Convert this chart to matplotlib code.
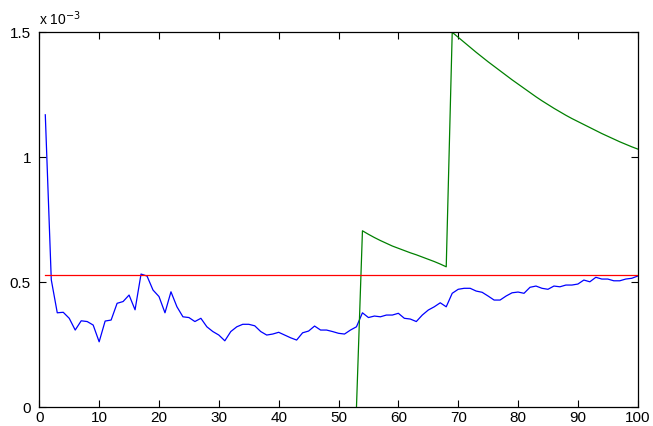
import numpy as np
import matplotlib
matplotlib.use('Agg')
import matplotlib.pyplot as plt

# values are in units of 1e-3 (the axis shows "x 10^-3")
blue_x = list(range(1, 101))
blue_y = [
    1.17, 0.51, 0.378, 0.38, 0.356, 0.309, 0.346, 0.343, 0.329, 0.262,
    0.345, 0.349, 0.416, 0.423, 0.449, 0.39, 0.533, 0.525, 0.469, 0.443,
    0.378, 0.462, 0.402, 0.362, 0.359, 0.343, 0.356, 0.322, 0.303, 0.289,
    0.266, 0.303, 0.322, 0.332, 0.332, 0.326, 0.303, 0.289, 0.293, 0.30,
    0.289, 0.278, 0.269, 0.298, 0.305, 0.325, 0.309, 0.309, 0.303, 0.296,
    0.293, 0.309, 0.322, 0.378, 0.359, 0.365, 0.362, 0.369, 0.369, 0.376,
    0.356, 0.353, 0.343, 0.369, 0.389, 0.402, 0.418, 0.402, 0.456, 0.472,
    0.476, 0.476, 0.465, 0.46, 0.445, 0.429, 0.429, 0.445, 0.458, 0.461,
    0.456, 0.48, 0.485, 0.476, 0.472, 0.485, 0.482, 0.489, 0.489, 0.493,
    0.509, 0.502, 0.52, 0.513, 0.513, 0.506, 0.506, 0.513, 0.516, 0.525,
]

green_x = list(range(53, 101))
green_y = [
    0.0, 0.706, 0.692, 0.679, 0.667, 0.656, 0.645, 0.636, 0.627, 0.618,
    0.610, 0.601, 0.592, 0.583, 0.573, 0.562,
    1.500, 1.480, 1.460, 1.440, 1.420, 1.401, 1.382, 1.364, 1.346, 1.328,
    1.310, 1.293, 1.276, 1.259, 1.242, 1.226, 1.211, 1.196, 1.182, 1.168,
    1.155, 1.143, 1.131, 1.119, 1.107, 1.095, 1.084, 1.073, 1.062, 1.052,
    1.042, 1.033,
]

red_x = [1, 100]
red_y = [0.528, 0.528]

x_ticks = [0, 10, 20, 30, 40, 50, 60, 70, 80, 90, 100]
y_ticks = [0, 0.5, 1, 1.5]
y_tick_labels = ['0', '0.5', '1', '1.5']

plt.rcParams['font.family'] = ['Liberation Sans', 'DejaVu Sans']

fig = plt.figure(figsize=(6.53, 4.26), dpi=100)
ax = fig.add_axes([0.0602, 0.0439, 0.9164, 0.8803])

ax.plot(blue_x, blue_y, color='#0000ff', linewidth=0.9)
ax.plot(green_x, green_y, color='#008000', linewidth=0.9)
ax.plot(red_x, red_y, color='#ff0000', linewidth=0.9)

ax.set_xlim(0, 100)
ax.set_ylim(0, 1.5)
ax.set_xticks(x_ticks)
ax.set_yticks(y_ticks)
ax.set_yticklabels(y_tick_labels)
ax.tick_params(direction='in', top=True, right=True, length=5, width=0.8,
               labelsize=11)
ax.tick_params(axis='x', pad=3)
ax.tick_params(axis='y', pad=6)
for s in ax.spines.values():
    s.set_linewidth(0.9)

ax.text(0.0, 1.012, r'x 10$^{-3}$', transform=ax.transAxes,
        ha='left', va='bottom', fontsize=10)

fig.savefig('out.png', dpi=100)
